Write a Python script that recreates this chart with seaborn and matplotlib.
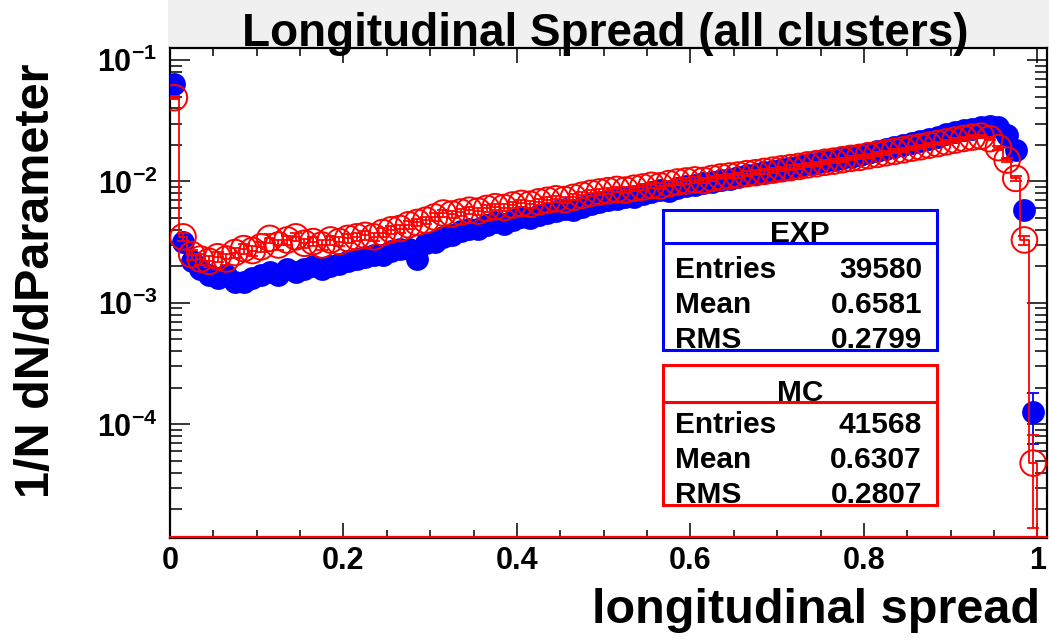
import numpy as np
import pandas as pd
import matplotlib
matplotlib.use("Agg")
import matplotlib.pyplot as plt
import seaborn as sns
from matplotlib.patches import Rectangle
from matplotlib.lines import Line2D
from matplotlib.transforms import offset_copy
from matplotlib.ticker import (FixedLocator, FixedFormatter, MultipleLocator,
                               LogLocator, NullFormatter)

# ---------------- data ----------------
# histogram binning: 101 bins of width 0.01 on [0, 1.01]
bin_low, bin_high, n_bins = 0.0, 1.01, 101

exp_values = [
    0.063, 0.0032, 0.0022, 0.0019, 0.0017, 0.0016, 0.0017, 0.0015, 0.0015, 0.0016,
    0.0017, 0.0018, 0.0017, 0.0019, 0.0018, 0.0019, 0.0020, 0.0019, 0.0020, 0.0021,
    0.0022, 0.0023, 0.0024, 0.0025, 0.0025, 0.0027, 0.0028, 0.0028, 0.0023, 0.0031,
    0.0032, 0.0035, 0.0036, 0.0039, 0.0041, 0.0041, 0.0044, 0.0046, 0.0045, 0.0048,
    0.0051, 0.0050, 0.0053, 0.0055, 0.0057, 0.0059, 0.0058, 0.0062, 0.0065, 0.0068,
    0.0070, 0.0072, 0.0075, 0.0074, 0.0079, 0.0082, 0.0085, 0.0084, 0.0089, 0.0092,
    0.0094, 0.0097, 0.0099, 0.0103, 0.0105, 0.0108, 0.0112, 0.0115, 0.0119, 0.0122,
    0.0126, 0.0129, 0.0134, 0.0138, 0.0141, 0.0147, 0.0150, 0.0156, 0.0160, 0.0166,
    0.0171, 0.0178, 0.0184, 0.0191, 0.0198, 0.0206, 0.0214, 0.0222, 0.0233, 0.0244,
    0.0255, 0.0264, 0.0272, 0.0280, 0.0284, 0.0283, 0.0240, 0.0180, 0.0058, 0.000126,
    0.0,
]

mc_values = [
    0.049, 0.0035, 0.0025, 0.0023, 0.0022, 0.0024, 0.0023, 0.0026, 0.0028, 0.0027,
    0.0029, 0.0034, 0.0030, 0.0033, 0.0035, 0.0031, 0.0032, 0.0030, 0.0033, 0.0032,
    0.0034, 0.0035, 0.0036, 0.0035, 0.0038, 0.0040, 0.0041, 0.0044, 0.0046, 0.0048,
    0.0051, 0.0055, 0.0054, 0.0056, 0.0058, 0.0057, 0.0060, 0.0062, 0.0061, 0.0064,
    0.0066, 0.0065, 0.0068, 0.0070, 0.0072, 0.0071, 0.0074, 0.0077, 0.0080, 0.0082,
    0.0084, 0.0086, 0.0085, 0.0088, 0.0090, 0.0093, 0.0092, 0.0096, 0.0099, 0.0101,
    0.0103, 0.0102, 0.0106, 0.0109, 0.0111, 0.0113, 0.0116, 0.0118, 0.0121, 0.0124,
    0.0127, 0.0130, 0.0133, 0.0137, 0.0140, 0.0144, 0.0147, 0.0151, 0.0155, 0.0158,
    0.0163, 0.0167, 0.0172, 0.0177, 0.0182, 0.0188, 0.0193, 0.0199, 0.0205, 0.0212,
    0.0219, 0.0226, 0.0232, 0.0236, 0.0225, 0.0190, 0.0150, 0.0106, 0.0033, 0.000048,
    0.0,
]

exp_name, exp_entries, exp_mean, exp_rms = "EXP", 39580, 0.6581, 0.2799
mc_name, mc_entries, mc_mean, mc_rms = "MC", 41568, 0.6307, 0.2807
stat_labels = ["Entries", "Mean", "RMS"]

x_ticks = [0.0, 0.2, 0.4, 0.6, 0.8, 1.0]
x_tick_labels = ["0", "0.2", "0.4", "0.6", "0.8", "1"]
y_ticks = [1e-4, 1e-3, 1e-2, 1e-1]
y_tick_labels = [r"$10^{-4}$", r"$10^{-3}$", r"$10^{-2}$", r"$10^{-1}$"]

title = "Longitudinal Spread (all clusters)"
xlabel = "longitudinal spread"
ylabel = "1/N dN/dParameter"

# ---------------- style ----------------
sns.set_style("white")
plt.rcParams["font.family"] = ["Liberation Sans", "DejaVu Sans"]
plt.rcParams["font.weight"] = "bold"
plt.rcParams["text.color"] = "black"
plt.rcParams["axes.labelcolor"] = "black"
plt.rcParams["xtick.color"] = "black"
plt.rcParams["ytick.color"] = "black"
plt.rcParams["mathtext.fontset"] = "custom"
plt.rcParams["mathtext.rm"] = "Liberation Sans:bold"
plt.rcParams["mathtext.it"] = "Liberation Sans:bold"
plt.rcParams["mathtext.bf"] = "Liberation Sans:bold"

W, H = 1049, 640
fig = plt.figure(figsize=(W / 100, H / 100), dpi=100)
fig.patch.set_facecolor("white")


def fx(px):
    return px / W


def fy(py):
    return 1 - py / H


ax = fig.add_axes([fx(170), fy(538), fx(1047) - fx(170), fy(48) - fy(538)])
ax.set_facecolor("white")

edges = np.linspace(bin_low, bin_high, n_bins + 1)
centers = 0.5 * (edges[:-1] + edges[1:])
df = pd.DataFrame({"x": centers, "exp": exp_values, "mc": mc_values})
df["exp_err"] = np.sqrt(df["exp"] / exp_entries)
df["mc_err"] = np.sqrt(df["mc"] / mc_entries)
pos_exp = df[df["exp"] > 0]
pos_mc = df[df["mc"] > 0]

# EXP: error bars + full blue circles
ax.errorbar(pos_exp["x"], pos_exp["exp"], yerr=pos_exp["exp_err"], fmt="none",
            ecolor="blue", elinewidth=1.3, capsize=4, capthick=1.3, zorder=2)
sns.scatterplot(data=pos_exp, x="x", y="exp", ax=ax, color="blue", s=270,
                marker="o", linewidth=0, zorder=3, legend=False)

# MC: histogram outline (steps), error bars, open red circles
step_df = pd.DataFrame({"x": edges, "y": list(mc_values) + [mc_values[-1]]})
sns.lineplot(data=step_df, x="x", y="y", ax=ax, drawstyle="steps-post",
             color="red", lw=1.3, estimator=None, sort=False, zorder=4)
ax.errorbar(pos_mc["x"], pos_mc["mc"], yerr=pos_mc["mc_err"], fmt="none",
            ecolor="red", elinewidth=1.3, capsize=4, capthick=1.3, zorder=5)
sns.scatterplot(data=pos_mc, x="x", y="mc", ax=ax, s=340, marker="o",
                zorder=6, legend=False)
coll = ax.collections[-1]
coll.set_facecolor("none")
coll.set_edgecolor("red")
coll.set_linewidth(1.4)

ax.set_yscale("log", nonpositive="clip")
ax.set_xlim(0, 1.011)
ax.set_ylim(1.16e-5, 0.1256)
ax.set_xlabel("")
ax.set_ylabel("")

ax.xaxis.set_major_locator(FixedLocator(x_ticks))
ax.xaxis.set_major_formatter(FixedFormatter(x_tick_labels))
ax.xaxis.set_minor_locator(MultipleLocator(0.05))
ax.yaxis.set_major_locator(FixedLocator(y_ticks))
ax.yaxis.set_major_formatter(FixedFormatter(y_tick_labels))
ax.yaxis.set_minor_locator(LogLocator(base=10, subs=np.arange(2, 10)))
ax.yaxis.set_minor_formatter(NullFormatter())

ax.tick_params(axis="x", which="major", direction="in", length=10.8, width=1.1,
               top=True, bottom=True, labelsize=22, pad=6, colors="black")
ax.tick_params(axis="x", which="minor", direction="in", length=5.5, width=1.1,
               top=True, bottom=True, colors="black")
ax.tick_params(axis="y", which="major", direction="in", length=14.4, width=1.1,
               left=True, right=True, labelsize=22, pad=9, colors="black")
ax.tick_params(axis="y", which="minor", direction="in", length=8.5, width=1.1,
               left=True, right=True, colors="black")
for s in ax.spines.values():
    s.set_visible(True)
    s.set_color("black")
    s.set_linewidth(1.6)

# histogram baseline along the bottom of the frame
tr = offset_copy(ax.transAxes, fig=fig, y=1.5, units="dots")
ax.plot([0, 1], [0, 0], transform=tr, color="red", lw=1.6, clip_on=False, zorder=7)

# title box
fig.add_artist(Rectangle((fx(168), fy(48)), 1 - fx(168), 1 - fy(48),
                         transform=fig.transFigure, facecolor="#f0f0f0",
                         edgecolor="none", zorder=-1))
fig.text(fx(605), fy(46), title, ha="center", va="baseline", fontsize=33,
         fontweight="bold", color="black", zorder=5)

fig.text(fx(37), fy(281), ylabel, rotation=90, ha="center", va="center",
         fontsize=35, fontweight="bold", color="black")
fig.text(fx(1040), fy(623), xlabel, ha="right", va="baseline", fontsize=35,
         fontweight="bold", color="black")


def stat_box(top, sep, bottom, color, name, values, baselines):
    left, right = 663, 937
    fig.add_artist(Rectangle((fx(left), fy(bottom)), fx(right) - fx(left),
                             fy(top) - fy(bottom), transform=fig.transFigure,
                             facecolor="white", edgecolor=color, lw=2.2, zorder=10))
    fig.add_artist(Line2D([fx(left), fx(right)], [fy(sep), fy(sep)],
                          transform=fig.transFigure, color=color, lw=2.2, zorder=11))
    fig.text(fx(800), fy(sep - 1), name, ha="center", va="baseline",
             fontsize=21.5, color="black", zorder=12)
    for lab, val, base in zip(stat_labels, values, baselines):
        fig.text(fx(675), fy(base), lab, ha="left", va="baseline", fontsize=21.5,
                 color="black", zorder=12)
        fig.text(fx(922), fy(base), val, ha="right", va="baseline", fontsize=21.5,
                 color="black", zorder=12)


stat_box(210, 243, 350, "blue", exp_name,
         [str(exp_entries), f"{exp_mean:.4f}", f"{exp_rms:.4f}"], [278, 313, 348])
stat_box(365, 402, 505, "red", mc_name,
         [str(mc_entries), f"{mc_mean:.4f}", f"{mc_rms:.4f}"], [433, 468, 503])

fig.savefig("out.png", dpi=100, facecolor="white")
